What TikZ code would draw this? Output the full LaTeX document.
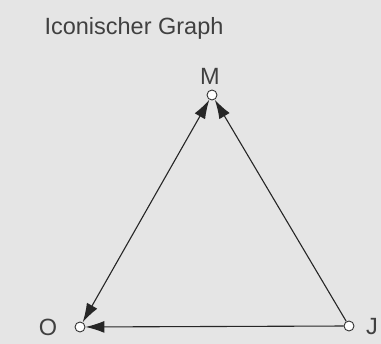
\documentclass[tikz,border=0pt]{standalone}
\usepackage{fontspec}
\setmainfont{Liberation Sans}
\usetikzlibrary{arrows.meta}
\begin{document}
\begin{tikzpicture}[x=1pt,y=-1pt,
    knoten/.style={circle,draw=black!80,fill=white,line width=0.9pt,inner sep=0pt,minimum size=10pt},
    marke/.style={text=black!75,font=\fontsize{23.5}{28}\selectfont},
    pfeil/.style={draw=black!85,line width=1.1pt,-{Latex[length=19pt,width=12pt]}}]
    % Hintergrund
    \fill[black!10] (0,0) rectangle (381,344);
    \useasboundingbox (0,0) rectangle (381,344);

    % Titel
    \node[marke,anchor=west] (titel) at (41,28) {Iconischer Graph};

    % Knoten
    \node[knoten] (M) at (212,95) {};
    \node[knoten] (O) at (80,327) {};
    \node[knoten] (J) at (349,326) {};
    \node[marke] (lM) at (210,76) {M};
    \node[marke] (lO) at (48,327) {O};
    \node[marke] (lJ) at (372,327) {J};

    % Kanten
    \draw[pfeil,{Latex[length=19pt,width=12pt]}-{Latex[length=19pt,width=12pt]}] (O) -- (M);
    \draw[pfeil] (J) -- (M);
    \draw[pfeil] (J) -- (O);
\end{tikzpicture}
\end{document}
